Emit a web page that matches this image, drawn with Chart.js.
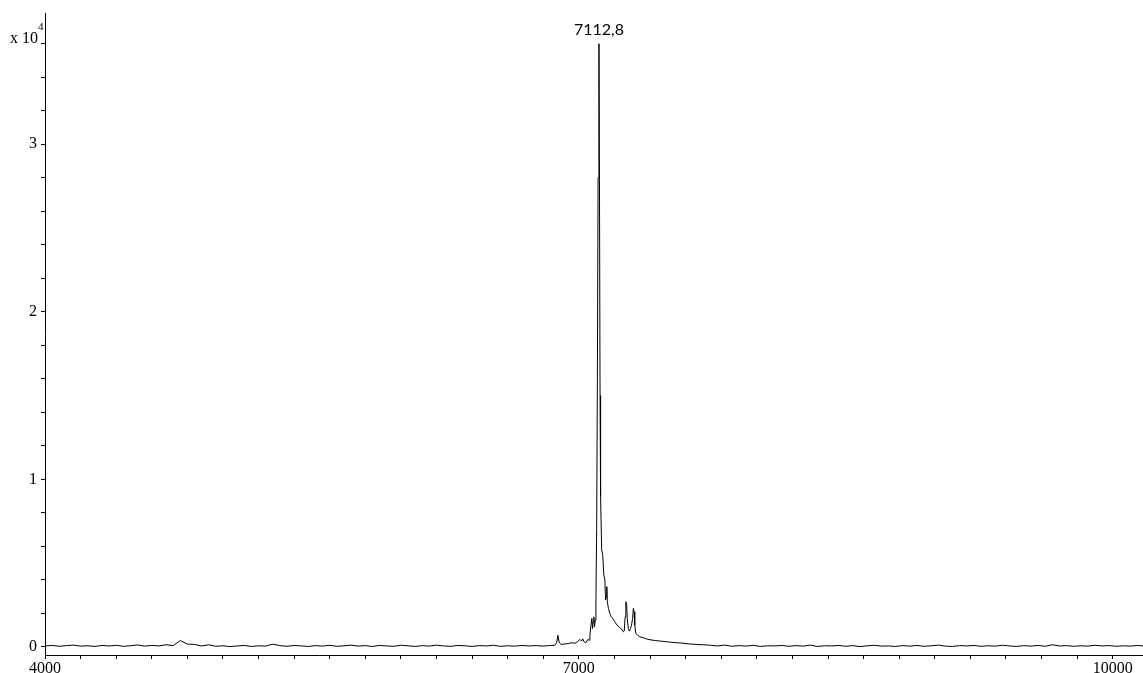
<!DOCTYPE html>
<html>
<head>
<meta charset="utf-8">
<title>Spectrum</title>
<script src="https://cdn.jsdelivr.net/npm/chart.js@4"></script>
<style>
  body { margin: 0; background: #fff; }
  #chart { display: block; }
</style>
</head>
<body>
<canvas id="chart" width="1143" height="673"></canvas>
<script>
// m/z positions and intensities
const mz = [
  4000, 4040, 4080, 4120, 4160, 4200, 4240, 4280, 4320, 4360, 4400, 4440, 4480, 4520, 4560, 4600, 4640, 4680, 4720,
  4760, 4800, 4840, 4880, 4920, 4960, 5000, 5040, 5080, 5120, 5160, 5200, 5240, 5280, 5320, 5360, 5400, 5440, 5480,
  5520, 5560, 5600, 5640, 5680, 5720, 5760, 5800, 5840, 5880, 5920, 5960, 6000, 6040, 6080, 6120, 6160, 6200, 6240,
  6280, 6320, 6360, 6400, 6440, 6480, 6520, 6560, 6600, 6640, 6680, 6720, 6760, 6800, 6840,
  6865, 6875, 6882, 6890, 6900, 6920, 6940, 6960, 6978, 6990, 7006, 7015, 7022, 7030, 7039, 7050, 7058, 7062, 7068,
  7073, 7077, 7080, 7084, 7088, 7092, 7096, 7100, 7104, 7108, 7112.8, 7116, 7119, 7122, 7128, 7134, 7140, 7146, 7150,
  7154, 7157, 7160, 7166, 7174, 7182, 7190, 7202, 7215, 7230, 7242, 7250, 7255, 7260, 7264, 7268, 7272, 7278, 7284,
  7290, 7296, 7302, 7306, 7310, 7314, 7320, 7330, 7343, 7360, 7380, 7400, 7430, 7460, 7500, 7540, 7580, 7620, 7660, 7700,
  7740, 7780, 7820, 7860, 7900, 7940, 7980, 8020, 8060, 8100, 8140, 8180, 8220, 8260, 8300, 8340, 8380, 8420, 8460,
  8500, 8540, 8580, 8620, 8660, 8700, 8740, 8780, 8820, 8860, 8900, 8940, 8980, 9020, 9060, 9100, 9140, 9180, 9220,
  9260, 9300, 9340, 9380, 9420, 9460, 9500, 9540, 9580, 9620, 9660, 9700, 9740, 9780, 9820, 9860, 9900, 9940, 9980,
  10020, 10060, 10100, 10140, 10170
];
const intensity = [
  60, 90, 40, 80, 110, 50, 70, 30, 90, 60, 100, 40, 70, 120, 50, 90, 60, 130, 80,
  380, 170, 150, 60, 130, 40, 70, 20, 60, 90, 30, 70, 50, 170, 80, 40, 90, 60, 30,
  80, 50, 100, 40, 70, 110, 50, 80, 30, 90, 60, 40, 100, 70, 30, 80, 50, 110, 60,
  40, 90, 70, 30, 80, 60, 100, 40, 70, 50, 90, 60, 80, 50, 90,
  100, 250, 700, 250, 150, 180, 200, 250, 220, 300, 450, 350, 480, 300, 250, 450, 400, 700, 1300,
  1700, 1100, 1500, 1800, 1200, 1600, 3000, 7000, 16000, 28000, 36000, 26600, 15000, 9000, 5800, 5500, 4300, 4000, 2800,
  3000, 3600, 2700, 2300, 2000, 1800, 1700, 1500, 1300, 1150, 1050, 900, 950, 1800, 2700, 2600, 1700, 1100, 950,
  1100, 1300, 1700, 2300, 2100, 1300, 800, 700, 600, 560, 480, 430, 380, 350, 300, 260, 230, 180, 150, 130,
  100, 60, 110, 40, 80, 50, 100, 30, 70, 60, 90, 40, 80, 50, 110, 30, 70, 60, 90,
  40, 80, 20, 70, 100, 50, 60, 30, 80, 50, 90, 40, 70, 110, 50, 30, 80, 60, 90,
  40, 70, 50, 100, 60, 30, 80, 50, 90, 40, 130, 60, 80, 40, 70, 50, 100, 60, 80,
  40, 70, 50, 90, 60
];

// axis ticks: labelled ones plus the small unlabelled ones between them
const xLabels = [4000, 7000, 10000];
const xMinorStep = 200;
const yLabels = [0, 10000, 20000, 30000];
const yMinorStep = 2000;
const yTickTop = 36000;

const peakMz = 7112.8;
const peakValue = 36000;
const peakText = "7112,8";

const serif = "'Liberation Serif', 'DejaVu Serif', serif";

function tickList(from, to, step) {
  const out = [];
  for (let v = from; v <= to; v += step) out.push({ value: v });
  return out;
}

// draws the "x 10^4" exponent and the peak label
const notes = {
  id: "notes",
  afterDraw(chart) {
    const ctx = chart.ctx;
    const x = chart.scales.x, y = chart.scales.y;
    ctx.save();
    ctx.fillStyle = "#000";
    ctx.textBaseline = "alphabetic";
    ctx.textAlign = "left";
    ctx.font = "16px " + serif;
    ctx.fillText("x 10", 10, 43);
    ctx.font = "11px " + serif;
    ctx.fillText("4", 38, 30);

    ctx.textAlign = "center";
    ctx.font = "16px Lato, 'Noto Sans', sans-serif";
    ctx.fillText(peakText, x.getPixelForValue(peakMz), y.getPixelForValue(peakValue) - 9);
    ctx.restore();
  }
};

new Chart(document.getElementById("chart"), {
  type: "line",
  data: {
    datasets: [{
      data: mz.map((m, i) => ({ x: m, y: intensity[i] })),
      borderColor: "#000",
      borderWidth: 1,
      pointRadius: 0,
      tension: 0,
      fill: false
    }]
  },
  options: {
    responsive: false,
    animation: false,
    layout: { padding: { top: 12, right: 0, bottom: 0, left: 0 } },
    plugins: { legend: { display: false }, tooltip: { enabled: false } },
    scales: {
      x: {
        type: "linear",
        min: 4000,
        max: 10170,
        border: { color: "#000", width: 1 },
        grid: { drawOnChartArea: false, tickLength: 4, color: "#000" },
        ticks: {
          autoSkip: false,
          maxRotation: 0,
          padding: 0,
          color: "#000",
          font: { family: serif, size: 16 },
          callback: (v) => (xLabels.includes(v) ? String(v) : "")
        },
        afterBuildTicks: (s) => { s.ticks = tickList(xLabels[0], xLabels[xLabels.length - 1], xMinorStep); },
        afterFit: (s) => { s.height = 18; }
      },
      y: {
        min: -480,
        max: 37800,
        border: { color: "#000", width: 1 },
        grid: { drawOnChartArea: false, tickLength: 4, color: "#000" },
        ticks: {
          autoSkip: false,
          padding: 4,
          color: "#000",
          font: { family: serif, size: 16 },
          callback: (v) => (yLabels.includes(v) ? String(v / 10000) : "")
        },
        afterBuildTicks: (s) => { s.ticks = tickList(yLabels[0], yTickTop, yMinorStep); },
        afterFit: (s) => { s.width = 45; }
      }
    }
  },
  plugins: [notes]
});
</script>
</body>
</html>
